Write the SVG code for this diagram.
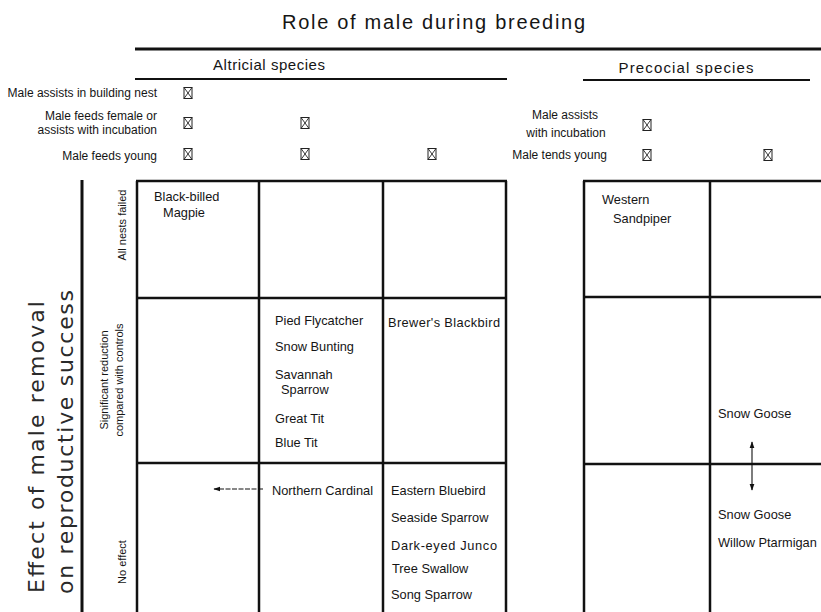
<svg xmlns="http://www.w3.org/2000/svg" width="821" height="612" viewBox="0 0 821 612">
<style>
text{font-family:"Liberation Sans",Arial,sans-serif;fill:#151515}
.t{font-size:20px}
.h{font-size:15px;text-anchor:middle}
.r{font-size:12px;text-anchor:end}
.rc{font-size:12px;text-anchor:middle}
.c{font-size:12.8px}
.v{font-size:11px;text-anchor:middle}
.big{font-family:"DejaVu Sans","Liberation Sans",sans-serif;font-size:22px;text-anchor:middle;fill:#2a2a2a}
.g{stroke:#111;stroke-width:2.5;fill:none}
.thin{stroke:#111;stroke-width:1.1;fill:none}
</style>
<defs>
<g id="cb"><rect x="-4" y="-5.5" width="8" height="11" fill="#fff" stroke="#222" stroke-width="1"/><path d="M-4,-5.5L4,5.5M4,-5.5L-4,5.5" stroke="#222" stroke-width="0.9"/></g>
<marker id="ah" viewBox="0 0 10 10" refX="9" refY="5" markerWidth="7" markerHeight="7" markerUnits="userSpaceOnUse" orient="auto-start-reverse"><path d="M0,1.5L10,5L0,8.5Z" fill="#111"/></marker>
</defs>
<rect width="821" height="612" fill="#fff"/>

<g id="header">
<text class="t" x="433.5" y="29" text-anchor="middle" textLength="303" lengthAdjust="spacing">Role of male during breeding</text>
<line x1="135" y1="49" x2="821" y2="49" stroke="#111" stroke-width="3"/>
<text class="h" x="269" y="70" textLength="112" lengthAdjust="spacing">Altricial species</text>
<line x1="135" y1="79" x2="507" y2="79" stroke="#111" stroke-width="2"/>
<text class="h" x="686" y="73" textLength="135" lengthAdjust="spacing">Precocial species</text>
<line x1="583" y1="80" x2="810" y2="80" stroke="#111" stroke-width="2"/>
</g>

<g id="roles">
<text class="r" x="157" y="97">Male assists in building nest</text>
<text class="r" x="157" y="120">Male feeds female or</text>
<text class="r" x="157" y="134">assists with incubation</text>
<text class="r" x="157" y="160">Male feeds young</text>
<text class="rc" x="565" y="119">Male assists</text>
<text class="rc" x="566" y="137">with incubation</text>
<text class="r" x="607" y="159">Male tends young</text>
<use href="#cb" x="188" y="93"/>
<use href="#cb" x="188" y="123"/>
<use href="#cb" x="188" y="154"/>
<use href="#cb" x="305" y="123"/>
<use href="#cb" x="305" y="154"/>
<use href="#cb" x="432" y="154"/>
<use href="#cb" x="647" y="125"/>
<use href="#cb" x="647" y="155"/>
<use href="#cb" x="768" y="155"/>
</g>

<g id="axis">
<line x1="82" y1="180" x2="82" y2="612" stroke="#111" stroke-width="3"/>
<text class="big" transform="translate(44,447) rotate(-90)" textLength="292" lengthAdjust="spacing">Effect of male removal</text>
<text class="big" transform="translate(73,442) rotate(-90)" textLength="304" lengthAdjust="spacing">on reproductive success</text>
<text class="v" transform="translate(126,225) rotate(-90)">All nests failed</text>
<text class="v" transform="translate(108,380) rotate(-90)">Significant reduction</text>
<text class="v" transform="translate(123,380) rotate(-90)">compared with controls</text>
<text class="v" transform="translate(126,562) rotate(-90)">No effect</text>
</g>

<g id="grid-altricial" class="g">
<path d="M137,181V612M259,181V612M383,181V612M506,181V612"/>
<path d="M136,181H507M136,298H507M136,463H507"/>
</g>
<g id="grid-precocial" class="g">
<path d="M584,181V612M710,181V612"/>
<path d="M583,181H821M583,297H821M583,464H821"/>
</g>

<g id="cell-magpie"><text class="c" x="154" y="201">Black-billed</text><text class="c" x="163" y="217">Magpie</text></g>
<g id="cell-reduced-2">
<text class="c" x="275" y="325">Pied Flycatcher</text>
<text class="c" x="275" y="351">Snow Bunting</text>
<text class="c" x="275" y="379">Savannah</text>
<text class="c" x="281" y="394">Sparrow</text>
<text class="c" x="275" y="423">Great Tit</text>
<text class="c" x="275" y="447">Blue Tit</text>
</g>
<g id="cell-reduced-3"><text class="c" x="388" y="327" textLength="112" lengthAdjust="spacing">Brewer's Blackbird</text></g>
<g id="cell-noeffect-2"><text class="c" x="272" y="495">Northern Cardinal</text></g>
<g id="cell-noeffect-3">
<text class="c" x="391" y="495">Eastern Bluebird</text>
<text class="c" x="391" y="522">Seaside Sparrow</text>
<text class="c" x="391" y="550" textLength="106" lengthAdjust="spacing">Dark-eyed Junco</text>
<text class="c" x="392" y="573">Tree Swallow</text>
<text class="c" x="391" y="599">Song Sparrow</text>
</g>
<g id="cell-sandpiper"><text class="c" x="602" y="204">Western</text><text class="c" x="613" y="223">Sandpiper</text></g>
<g id="cell-goose-reduced"><text class="c" x="718" y="418">Snow Goose</text></g>
<g id="cell-goose-noeffect"><text class="c" x="718" y="519">Snow Goose</text><text class="c" x="718" y="547">Willow Ptarmigan</text></g>

<g id="connectors" class="thin">
<line x1="263" y1="489" x2="214" y2="489" stroke-dasharray="5 1.5" marker-end="url(#ah)"/>
<line x1="752" y1="442" x2="752" y2="490" marker-start="url(#ah)" marker-end="url(#ah)"/>
</g>
</svg>
